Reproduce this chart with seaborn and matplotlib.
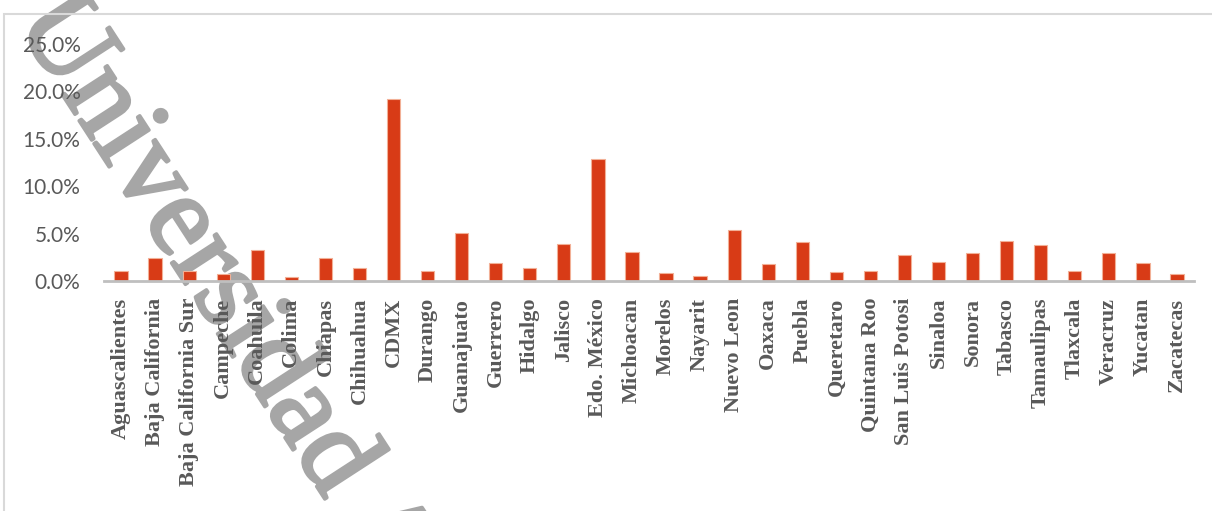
import matplotlib
matplotlib.use("Agg")
import matplotlib.pyplot as plt
import matplotlib.patches as mpatches
import matplotlib.patheffects as pe
from matplotlib.ticker import PercentFormatter, MultipleLocator
import seaborn as sns
import pandas as pd

# estados y porcentaje
estados = ["Aguascalientes", "Baja California", "Baja California Sur", "Campeche",
           "Coahuila", "Colima", "Chiapas", "Chihuahua", "CDMX", "Durango",
           "Guanajuato", "Guerrero", "Hidalgo", "Jalisco", "Edo. México",
           "Michoacan", "Morelos", "Nayarit", "Nuevo Leon", "Oaxaca", "Puebla",
           "Queretaro", "Quintana Roo", "San Luis Potosi", "Sinaloa", "Sonora",
           "Tabasco", "Tamaulipas", "Tlaxcala", "Veracruz", "Yucatan", "Zacatecas"]
porcentaje = [1.1, 2.4, 1.1, 0.7, 3.3, 0.4, 2.4, 1.35, 19.2, 1.1,
              5.1, 1.9, 1.35, 3.9, 12.9, 3.1, 0.8, 0.5, 5.4, 1.75, 4.1,
              0.95, 1.1, 2.7, 2.0, 3.0, 4.2, 3.8, 1.1, 3.0, 1.9, 0.7]
marca_agua = "Universidad Autónoma de Querétaro"

df = pd.DataFrame({"estado": estados, "pct": porcentaje})

sns.set_style("white")
fig = plt.figure(figsize=(12.12, 5.11), dpi=100)
ax = fig.add_axes([104 / 1212, 1 - 281 / 511, 1090 / 1212, 237 / 511])
ax.set_facecolor("none")

sns.barplot(data=df, x="estado", y="pct", color="#d83b16", width=0.39,
            edgecolor="#f2b096", linewidth=0.8, saturation=1, ax=ax)

ax.set_ylim(0, 25)
ax.set_xlim(-0.5, len(estados) - 0.5)
ax.yaxis.set_major_locator(MultipleLocator(5))
ax.yaxis.set_major_formatter(PercentFormatter(decimals=1))
ax.set_xlabel("")
ax.set_ylabel("")
for s in ["top", "right", "left"]:
    ax.spines[s].set_visible(False)
ax.spines["bottom"].set_color("#bfbfbf")
ax.spines["bottom"].set_linewidth(2)
ax.tick_params(axis="y", length=0, pad=17, labelsize=15, labelcolor="#595959")
ax.tick_params(axis="x", length=0, pad=12)
for lab in ax.get_yticklabels():
    lab.set_family("Lato")
ax.set_xticks(range(len(estados)))
ax.set_xticklabels(estados, rotation=90, family="Liberation Serif",
                   fontweight="bold", fontsize=16, color="#595959", va="top")

# marco del grafico
fig.patches.append(mpatches.Rectangle((4 / 1212, -0.05), 1.1, 1 - 14 / 511 + 0.05,
                                      transform=fig.transFigure, fill=False,
                                      edgecolor="#d9d9d9", linewidth=1.5))

# marca de agua (debajo de barras y etiquetas)
fig.text(15 / 1212, 1 - 22 / 511, marca_agua, rotation=-57, rotation_mode="anchor",
         ha="left", va="baseline", family="Liberation Serif", fontsize=84,
         color="#a6a6a6", zorder=-1,
         path_effects=[pe.withStroke(linewidth=2.5, foreground="#a6a6a6")])

fig.savefig("out.png", dpi=100)
